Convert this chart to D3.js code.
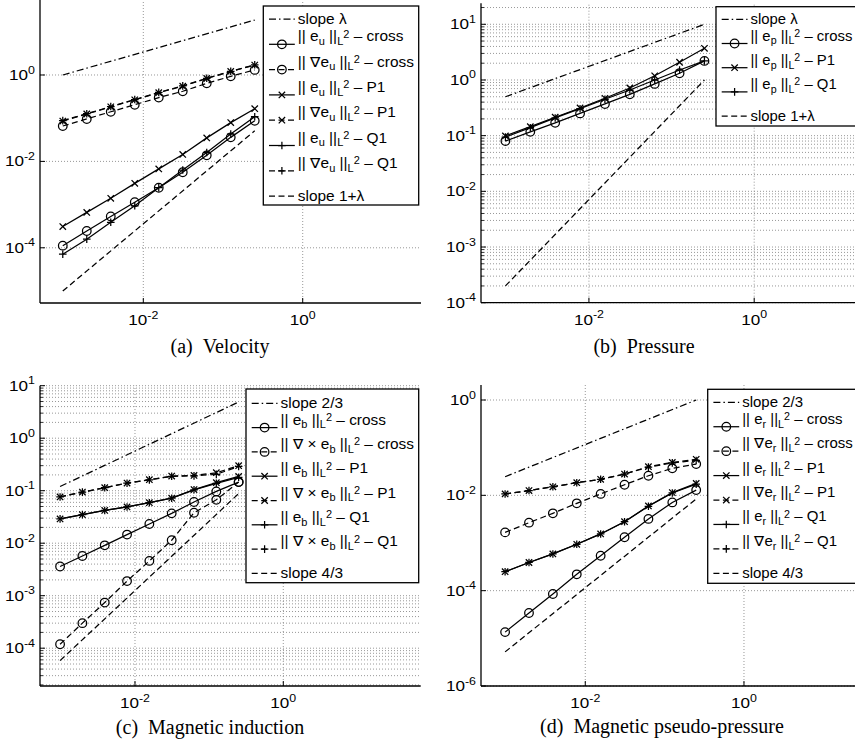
<!DOCTYPE html>
<html>
<head>
<meta charset="utf-8">
<script src="https://cdn.jsdelivr.net/npm/d3@7"></script>
<style>
  body { margin: 0; background: #fff; }
  svg { display: block; }
  text { font-family: "Liberation Sans", Arial, Helvetica, sans-serif; fill: #000; }
  .cap { font-family: "Liberation Serif", "Times New Roman", serif; }
</style>
</head>
<body>
<svg id="fig" width="855" height="749"></svg>
<script>
// mesh sizes h = 2^-10 ... 2^-2
const meshH = [0.0009765625, 0.001953125, 0.00390625, 0.0078125, 0.015625, 0.03125, 0.0625, 0.125, 0.25];
const slopeH = [0.0009765625, 0.25];

// (a) velocity
const velL2Cross = [1.12e-4, 2.45e-4, 5.3e-4, 1.13e-3, 2.46e-3, 5.6e-3, 1.38e-2, 3.6e-2, 8.7e-2];
const velH1Cross = [0.066, 0.096, 0.141, 0.205, 0.30, 0.42, 0.64, 0.93, 1.31];
const velL2P1 = [3.1e-4, 6.6e-4, 1.4e-3, 3.1e-3, 6.7e-3, 1.45e-2, 3.5e-2, 7.9e-2, 0.166];
const velH1P1 = [0.086, 0.125, 0.183, 0.267, 0.39, 0.55, 0.83, 1.21, 1.70];
const velL2Q1 = [7.1e-5, 1.58e-4, 3.9e-4, 9.4e-4, 2.46e-3, 6.3e-3, 1.6e-2, 4.3e-2, 0.108];
const velH1Q1 = [0.088, 0.127, 0.186, 0.27, 0.395, 0.56, 0.84, 1.22, 1.72];
const velSlopeLam = [1.0, 18.7];
const velSlope1Lam = [1.0e-5, 0.051];

// (b) pressure
const preCross = [0.080, 0.117, 0.170, 0.251, 0.371, 0.553, 0.85, 1.32, 2.2];
const preP1 = [0.099, 0.145, 0.214, 0.314, 0.469, 0.718, 1.19, 2.08, 3.71];
const preQ1 = [0.094, 0.139, 0.208, 0.305, 0.45, 0.66, 1.0, 1.51, 2.2];
const preSlopeLam = [0.5, 10];
const preSlope1Lam = [2e-4, 1.0];

// (c) magnetic induction
const magL2Cross = [0.0036, 0.0057, 0.0091, 0.0146, 0.0232, 0.037, 0.061, 0.097, 0.146];
const magCurlCross = [1.19e-4, 3.0e-4, 7.4e-4, 1.9e-3, 4.6e-3, 0.0114, 0.038, 0.067, 0.146];
const magL2P1 = [0.029, 0.035, 0.042, 0.049, 0.059, 0.072, 0.105, 0.142, 0.187];
const magCurlP1 = [0.076, 0.094, 0.114, 0.140, 0.162, 0.19, 0.195, 0.22, 0.30];
const magL2Q1 = [0.029, 0.035, 0.042, 0.049, 0.059, 0.072, 0.104, 0.138, 0.18];
const magCurlQ1 = [0.076, 0.094, 0.114, 0.139, 0.161, 0.188, 0.192, 0.205, 0.29];
const magSlope23 = [0.12, 4.9];
const magSlope43 = [5.8e-5, 0.088];

// (d) magnetic pseudo-pressure
const rL2Cross = [1.35e-5, 3.4e-5, 8.5e-5, 2.2e-4, 5.4e-4, 1.32e-3, 3.2e-3, 7.1e-3, 0.0129];
const rH1Cross = [1.67e-3, 2.67e-3, 4.2e-3, 6.8e-3, 0.0107, 0.0167, 0.0258, 0.0369, 0.0454];
const rL2P1 = [2.5e-4, 3.9e-4, 5.9e-4, 9.4e-4, 1.55e-3, 2.8e-3, 6.0e-3, 0.0114, 0.0178];
const rH1P1 = [0.0107, 0.0126, 0.0151, 0.0184, 0.0217, 0.028, 0.040, 0.049, 0.057];
const rL2Q1 = [2.5e-4, 3.9e-4, 5.9e-4, 9.4e-4, 1.55e-3, 2.8e-3, 5.9e-3, 0.0112, 0.0172];
const rH1Q1 = [0.0107, 0.0126, 0.0151, 0.0184, 0.0217, 0.028, 0.039, 0.048, 0.054];
const rSlope23 = [0.0246, 1.0];
const rSlope43 = [5.2e-6, 0.0084];

// tick values
const xTicks = [1e-2, 1];
const yTicksA = [1e-4, 1e-2, 1];
const yTicksB = [1e-4, 1e-3, 1e-2, 1e-1, 1, 10];
const yTicksC = [1e-4, 1e-3, 1e-2, 1e-1, 1, 10];
const yTicksD = [1e-6, 1e-4, 1e-2, 1];

const S = (label, x, values, dash, marker) => ({ label, x, values, dash, marker });

const panels = [
  {
    caption: "(a)\u00a0\u00a0Velocity", capX: 220, capY: 353,
    box: { left: 40, right: 421, top: 0, bottom: 303 },
    xExp: [-3.296, 1.484], yExp: [-5.278, 1.736],
    yTicks: yTicksA, minor: false,
    legend: { left: 263.3, top: 6, width: 155.4, height: 199, row0: 13, step: 25.3, textW: 115.6 },
    series: [
      S("slope λ", slopeH, velSlopeLam, "dashdot", null),
      S("|| e_u ||_L^2 – cross", meshH, velL2Cross, "solid", "o"),
      S("|| ∇e_u ||_L^2 – cross", meshH, velH1Cross, "dash", "o"),
      S("|| e_u ||_L^2 – P1", meshH, velL2P1, "solid", "x"),
      S("|| ∇e_u ||_L^2 – P1", meshH, velH1P1, "dash", "x"),
      S("|| e_u ||_L^2 – Q1", meshH, velL2Q1, "solid", "+"),
      S("|| ∇e_u ||_L^2 – Q1", meshH, velH1Q1, "dash", "+"),
      S("slope 1+λ", slopeH, velSlope1Lam, "dash", null)
    ]
  },
  {
    caption: "(b)\u00a0\u00a0Pressure", capX: 644, capY: 353,
    box: { left: 481, right: 876, top: 3.3, bottom: 302.7 },
    xExp: [-3.306, 1.474], yExp: [-4, 1.377],
    yTicks: yTicksB, minor: true,
    legend: { left: 716, top: 6.7, width: 160, height: 119.3, row0: 12.6, step: 24.2, textW: 102 },
    series: [
      S("slope λ", slopeH, preSlopeLam, "dashdot", null),
      S("|| e_p ||_L^2 – cross", meshH, preCross, "solid", "o"),
      S("|| e_p ||_L^2 – P1", meshH, preP1, "solid", "x"),
      S("|| e_p ||_L^2 – Q1", meshH, preQ1, "solid", "+"),
      S("slope 1+λ", slopeH, preSlope1Lam, "dash", null)
    ]
  },
  {
    caption: "(c)\u00a0\u00a0Magnetic induction", capX: 210, capY: 734,
    box: { left: 40, right: 420.7, top: 385.7, bottom: 686 },
    xExp: [-3.281, 1.853], yExp: [-4.72, 1],
    yTicks: yTicksC, minor: true,
    legend: { left: 246, top: 389, width: 172.7, height: 193.7, row0: 14.3, step: 24.3, textW: 133 },
    series: [
      S("slope 2/3", slopeH, magSlope23, "dashdot", null),
      S("|| e_b ||_L^2 – cross", meshH, magL2Cross, "solid", "o"),
      S("|| ∇ × e_b ||_L^2 – cross", meshH, magCurlCross, "dash", "o"),
      S("|| e_b ||_L^2 – P1", meshH, magL2P1, "solid", "x"),
      S("|| ∇ × e_b ||_L^2 – P1", meshH, magCurlP1, "dash", "x"),
      S("|| e_b ||_L^2 – Q1", meshH, magL2Q1, "solid", "+"),
      S("|| ∇ × e_b ||_L^2 – Q1", meshH, magCurlQ1, "dash", "+"),
      S("slope 4/3", slopeH, magSlope43, "dash", null)
    ]
  },
  {
    caption: "(d)\u00a0\u00a0Magnetic pseudo-pressure", capX: 662, capY: 733,
    box: { left: 481, right: 863, top: 385, bottom: 686 },
    xExp: [-3.314, 1.5], yExp: [-6, 0.315],
    yTicks: yTicksD, minor: false,
    legend: { left: 707.7, top: 389.3, width: 160, height: 194, row0: 13, step: 24.43, textW: 110 },
    series: [
      S("slope 2/3", slopeH, rSlope23, "dashdot", null),
      S("|| e_r ||_L^2 – cross", meshH, rL2Cross, "solid", "o"),
      S("|| ∇e_r ||_L^2 – cross", meshH, rH1Cross, "dash", "o"),
      S("|| e_r ||_L^2 – P1", meshH, rL2P1, "solid", "x"),
      S("|| ∇e_r ||_L^2 – P1", meshH, rH1P1, "dash", "x"),
      S("|| e_r ||_L^2 – Q1", meshH, rL2Q1, "solid", "+"),
      S("|| ∇e_r ||_L^2 – Q1", meshH, rH1Q1, "dash", "+"),
      S("slope 4/3", slopeH, rSlope43, "dash", null)
    ]
  }
];

const dashes = { solid: null, dash: "6,3.5", dashdot: "7,3,1.5,3" };
const LW = 1.25;
const TICK_STRETCH = 1.18;

const svg = d3.select("#fig");

function drawMarker(g, type, cx, cy) {
  if (type === "o") {
    g.append("circle").attr("cx", cx).attr("cy", cy).attr("r", 4.3)
      .attr("fill", "none").attr("stroke", "#000").attr("stroke-width", LW);
  } else if (type === "x") {
    const s = 3.2;
    g.append("path").attr("d", `M${cx - s},${cy - s}L${cx + s},${cy + s}M${cx - s},${cy + s}L${cx + s},${cy - s}`)
      .attr("stroke", "#000").attr("stroke-width", LW);
  } else if (type === "+") {
    const s = 3.8;
    g.append("path").attr("d", `M${cx - s},${cy}L${cx + s},${cy}M${cx},${cy - s}L${cx},${cy + s}`)
      .attr("stroke", "#000").attr("stroke-width", LW);
  }
}

// tiny TeX-ish parser: _c subscript, ^c superscript
function writeLabel(textSel, label) {
  const segs = [];
  let buf = "";
  for (let i = 0; i < label.length; i++) {
    const c = label[i];
    if ((c === "_" || c === "^") && i + 1 < label.length) {
      if (buf) segs.push({ t: buf, lvl: 0 });
      buf = "";
      segs.push({ t: label[i + 1], lvl: c === "_" ? 3.8 : -3.6 });
      i++;
    } else {
      buf += c;
    }
  }
  if (buf) segs.push({ t: buf, lvl: 0 });
  let cur = 0;
  segs.forEach(s => {
    textSel.append("tspan")
      .attr("dy", s.lvl - cur)
      .attr("font-size", s.lvl === 0 ? 14 : 10)
      .text(s.t);
    cur = s.lvl;
  });
}

function tickLabel(g, v, tx, ty, anchor) {
  const e = Math.round(Math.log10(v));
  const t = g.append("text").attr("text-anchor", anchor).attr("font-size", 14.5)
    .attr("transform", `translate(${tx},${ty}) scale(${TICK_STRETCH},1)`);
  t.append("tspan").text("10");
  t.append("tspan").attr("dy", -6.5).attr("font-size", 10.5).text(e < 0 ? "-" + (-e) : String(e));
}

panels.forEach(p => {
  const b = p.box;
  const g = svg.append("g");
  const x = d3.scaleLog().domain([10 ** p.xExp[0], 10 ** p.xExp[1]]).range([b.left, b.right]);
  const y = d3.scaleLog().domain([10 ** p.yExp[0], 10 ** p.yExp[1]]).range([b.bottom, b.top]);

  // grid
  const grid = g.append("g").attr("stroke", "#8c8c8c").attr("stroke-width", 0.9).attr("stroke-dasharray", "1,2");
  if (p.minor) {
    const minors = [];
    for (let d = Math.floor(p.yExp[0]); d <= Math.ceil(p.yExp[1]); d++) {
      for (let k = 2; k <= 9; k++) {
        const v = k * 10 ** d;
        if (v >= 10 ** p.yExp[0] && v <= 10 ** p.yExp[1]) minors.push(v);
      }
    }
    grid.selectAll(".mg").data(minors).enter().append("line")
      .attr("x1", b.left).attr("x2", b.right).attr("y1", d => y(d)).attr("y2", d => y(d));
    g.append("g").selectAll("line").data(minors).enter().append("line")
      .attr("x1", b.left).attr("x2", b.left + 3).attr("y1", d => y(d)).attr("y2", d => y(d))
      .attr("stroke", "#000").attr("stroke-width", 0.8);
  }
  grid.selectAll(".yg").data(p.yTicks).enter().append("line")
    .attr("x1", b.left).attr("x2", b.right).attr("y1", d => y(d)).attr("y2", d => y(d));
  grid.selectAll(".xg").data(xTicks).enter().append("line")
    .attr("x1", d => x(d)).attr("x2", d => x(d)).attr("y1", b.bottom).attr("y2", b.top);

  // series
  const line = d3.line().x(d => x(d[0])).y(d => y(d[1]));
  p.series.forEach(s => {
    const pts = s.x.map((h, i) => [h, s.values[i]]);
    g.append("path").attr("d", line(pts)).attr("fill", "none")
      .attr("stroke", "#000").attr("stroke-width", LW)
      .attr("stroke-dasharray", dashes[s.dash]);
    if (s.marker) pts.forEach(d => drawMarker(g, s.marker, x(d[0]), y(d[1])));
  });

  // axes lines and ticks
  g.append("line").attr("x1", b.left).attr("x2", b.left).attr("y1", b.top).attr("y2", b.bottom)
    .attr("stroke", "#000").attr("stroke-width", 1.3);
  g.append("line").attr("x1", b.left).attr("x2", b.right).attr("y1", b.bottom).attr("y2", b.bottom)
    .attr("stroke", "#000").attr("stroke-width", 1.3);
  g.selectAll(".yt").data(p.yTicks).enter().append("line")
    .attr("x1", b.left).attr("x2", b.left + 5).attr("y1", d => y(d)).attr("y2", d => y(d))
    .attr("stroke", "#000").attr("stroke-width", 1);
  g.selectAll(".xt").data(xTicks).enter().append("line")
    .attr("x1", d => x(d)).attr("x2", d => x(d)).attr("y1", b.bottom).attr("y2", b.bottom - 5)
    .attr("stroke", "#000").attr("stroke-width", 1);

  p.yTicks.forEach(v => tickLabel(g, v, b.left - 5, y(v) + 5, "end"));
  xTicks.forEach(v => tickLabel(g, v, x(v), b.bottom + 22, "middle"));

  // legend
  const lg = p.legend;
  const L = g.append("g");
  L.append("rect").attr("x", lg.left).attr("y", lg.top).attr("width", lg.width).attr("height", lg.height)
    .attr("fill", "#fff").attr("stroke", "#000").attr("stroke-width", 1.3);
  const labels = [];
  p.series.forEach((s, i) => {
    const yy = lg.top + lg.row0 + i * lg.step;
    const x0 = lg.left + 5.7, x1 = lg.left + 31.5;
    L.append("line").attr("x1", x0).attr("x2", x1).attr("y1", yy).attr("y2", yy)
      .attr("stroke", "#000").attr("stroke-width", LW).attr("stroke-dasharray", dashes[s.dash]);
    if (s.marker) drawMarker(L, s.marker, (x0 + x1) / 2, yy);
    const hasSub = s.label.includes("_");
    const t = L.append("text").attr("font-size", 14);
    writeLabel(t, s.label);
    labels.push({ t, tx: lg.left + 34.5, ty: yy + (hasSub ? -3 : 4.5) });
  });
  // stretch legend text horizontally to the width seen in the figure
  const maxW = d3.max(labels, d => d.t.node().getBBox().width);
  const k = lg.textW / maxW;
  labels.forEach(d => d.t.attr("transform", `translate(${d.tx},${d.ty}) scale(${k},1)`));

  // caption
  svg.append("text").attr("class", "cap").attr("x", p.capX).attr("y", p.capY)
    .attr("text-anchor", "middle").attr("font-size", 20).text(p.caption);
});
</script>
</body>
</html>
